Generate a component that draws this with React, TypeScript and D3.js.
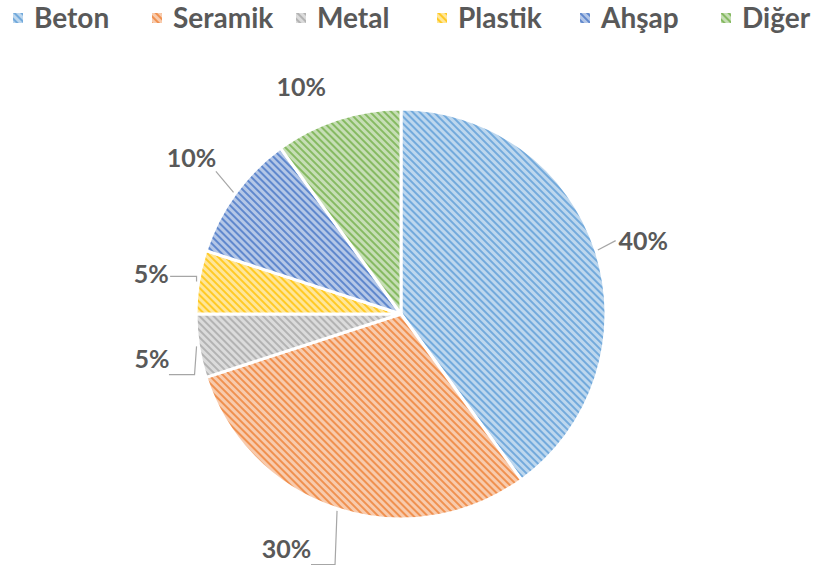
import React from "react";
import * as d3 from "d3";

const categories = ["Beton", "Seramik", "Metal", "Plastik", "Ahşap", "Diğer"];
const values = [40, 30, 5, 5, 10, 10];
const colors = ["#5B9BD5", "#ED7D31", "#A5A5A5", "#FFC000", "#4472C4", "#70AD47"];
const labels = ["40%", "30%", "5%", "5%", "10%", "10%"];
const showLeader = [true, true, true, true, true, false];

const W = 816;
const H = 565;
const cx = 401;
const cy = 314;
const R = 205;
const LR = 253;
const FONT = "Lato, 'Open Sans', sans-serif";
const TXT = "#595959";

export default function App() {
  const pie = d3.pie<number>().sort(null).value((d) => d);
  const arcs = pie(values);
  const arcGen = d3.arc<d3.PieArcDatum<number>>().innerRadius(0).outerRadius(R);
  const nudge = [0.02, 0.14, -0.02, 0, 0.01, -0.1];
  const radial = [0, 8, 0, 0, 8, -5];

  const legendX = [13, 152, 296, 437, 580, 721];

  return (
    <svg width={W} height={H} style={{ position: "absolute", left: 0, top: 0, background: "#fff" }}>
      <defs>
        {colors.map((c, i) => {
          const light = d3.interpolateRgb(c, "#ffffff")(0.6);
          return (
            <pattern key={i} id={`pat${i}`} patternUnits="userSpaceOnUse" width={5} height={5} patternTransform="rotate(-45)">
              <rect width={5} height={5} fill={light} />
              <rect width={2} height={5} fill={c} opacity={0.75} />
            </pattern>
          );
        })}
      </defs>
      <g>
        {categories.map((c, i) => (
          <g key={c}>
            <rect x={legendX[i]} y={13} width={10} height={10} fill={`url(#pat${i})`} />
            <text x={legendX[i] + 21} y={28} fontFamily={FONT} fontWeight={700} fontSize={28} fill={TXT}>
              {c}
            </text>
          </g>
        ))}
      </g>
      <g transform={`translate(${cx},${cy})`}>
        {arcs.map((a, i) => (
          <path key={i} d={arcGen(a) || ""} fill={`url(#pat${i})`} stroke="#fff" strokeWidth={3} strokeLinejoin="round" />
        ))}
        {arcs.map((a, i) => {
          const mid = (a.startAngle + a.endAngle) / 2;
          const la = mid + nudge[i];
          const lr = LR + radial[i];
          const lx = Math.sin(la) * lr;
          const ly = -Math.cos(la) * lr;
          const px = Math.sin(mid) * (R + 2);
          const py = -Math.cos(mid) * (R + 2);
          const w = labels[i].length * 15 + 4;
          const h = 26;
          const left = lx - w / 2;
          const right = lx + w / 2;
          const bottom = ly + h / 2;
          let pts: [number, number][];
          if (px > right) {
            pts = [[px, py], [px, ly + 2], [right + 2, ly + 2]];
          } else if (px < left) {
            pts = [[px, py], [left - 3, ly]];
          } else if (py < bottom) {
            pts = [[px, py], [px, bottom + 2], [right, bottom + 2]];
          } else {
            pts = [[px, py], [right, bottom]];
          }
          if (px > right && py < ly) {
            pts = [[px, py], [px - 2, bottom + 3], [right, bottom + 3]];
          }
          if (px > right && py > bottom + 10 && i !== 1) {
            pts = [[px, py], [right, bottom]];
          }
          return (
            <g key={`l${i}`}>
              {showLeader[i] && (
                <path d={d3.line()(pts) || ""} fill="none" stroke="#a6a6a6" strokeWidth={1.2} />
              )}
              <text x={lx} y={ly + 9} textAnchor="middle" fontFamily={FONT} fontWeight={700} fontSize={25} fill={TXT}>
                {labels[i]}
              </text>
            </g>
          );
        })}
      </g>
    </svg>
  );
}
